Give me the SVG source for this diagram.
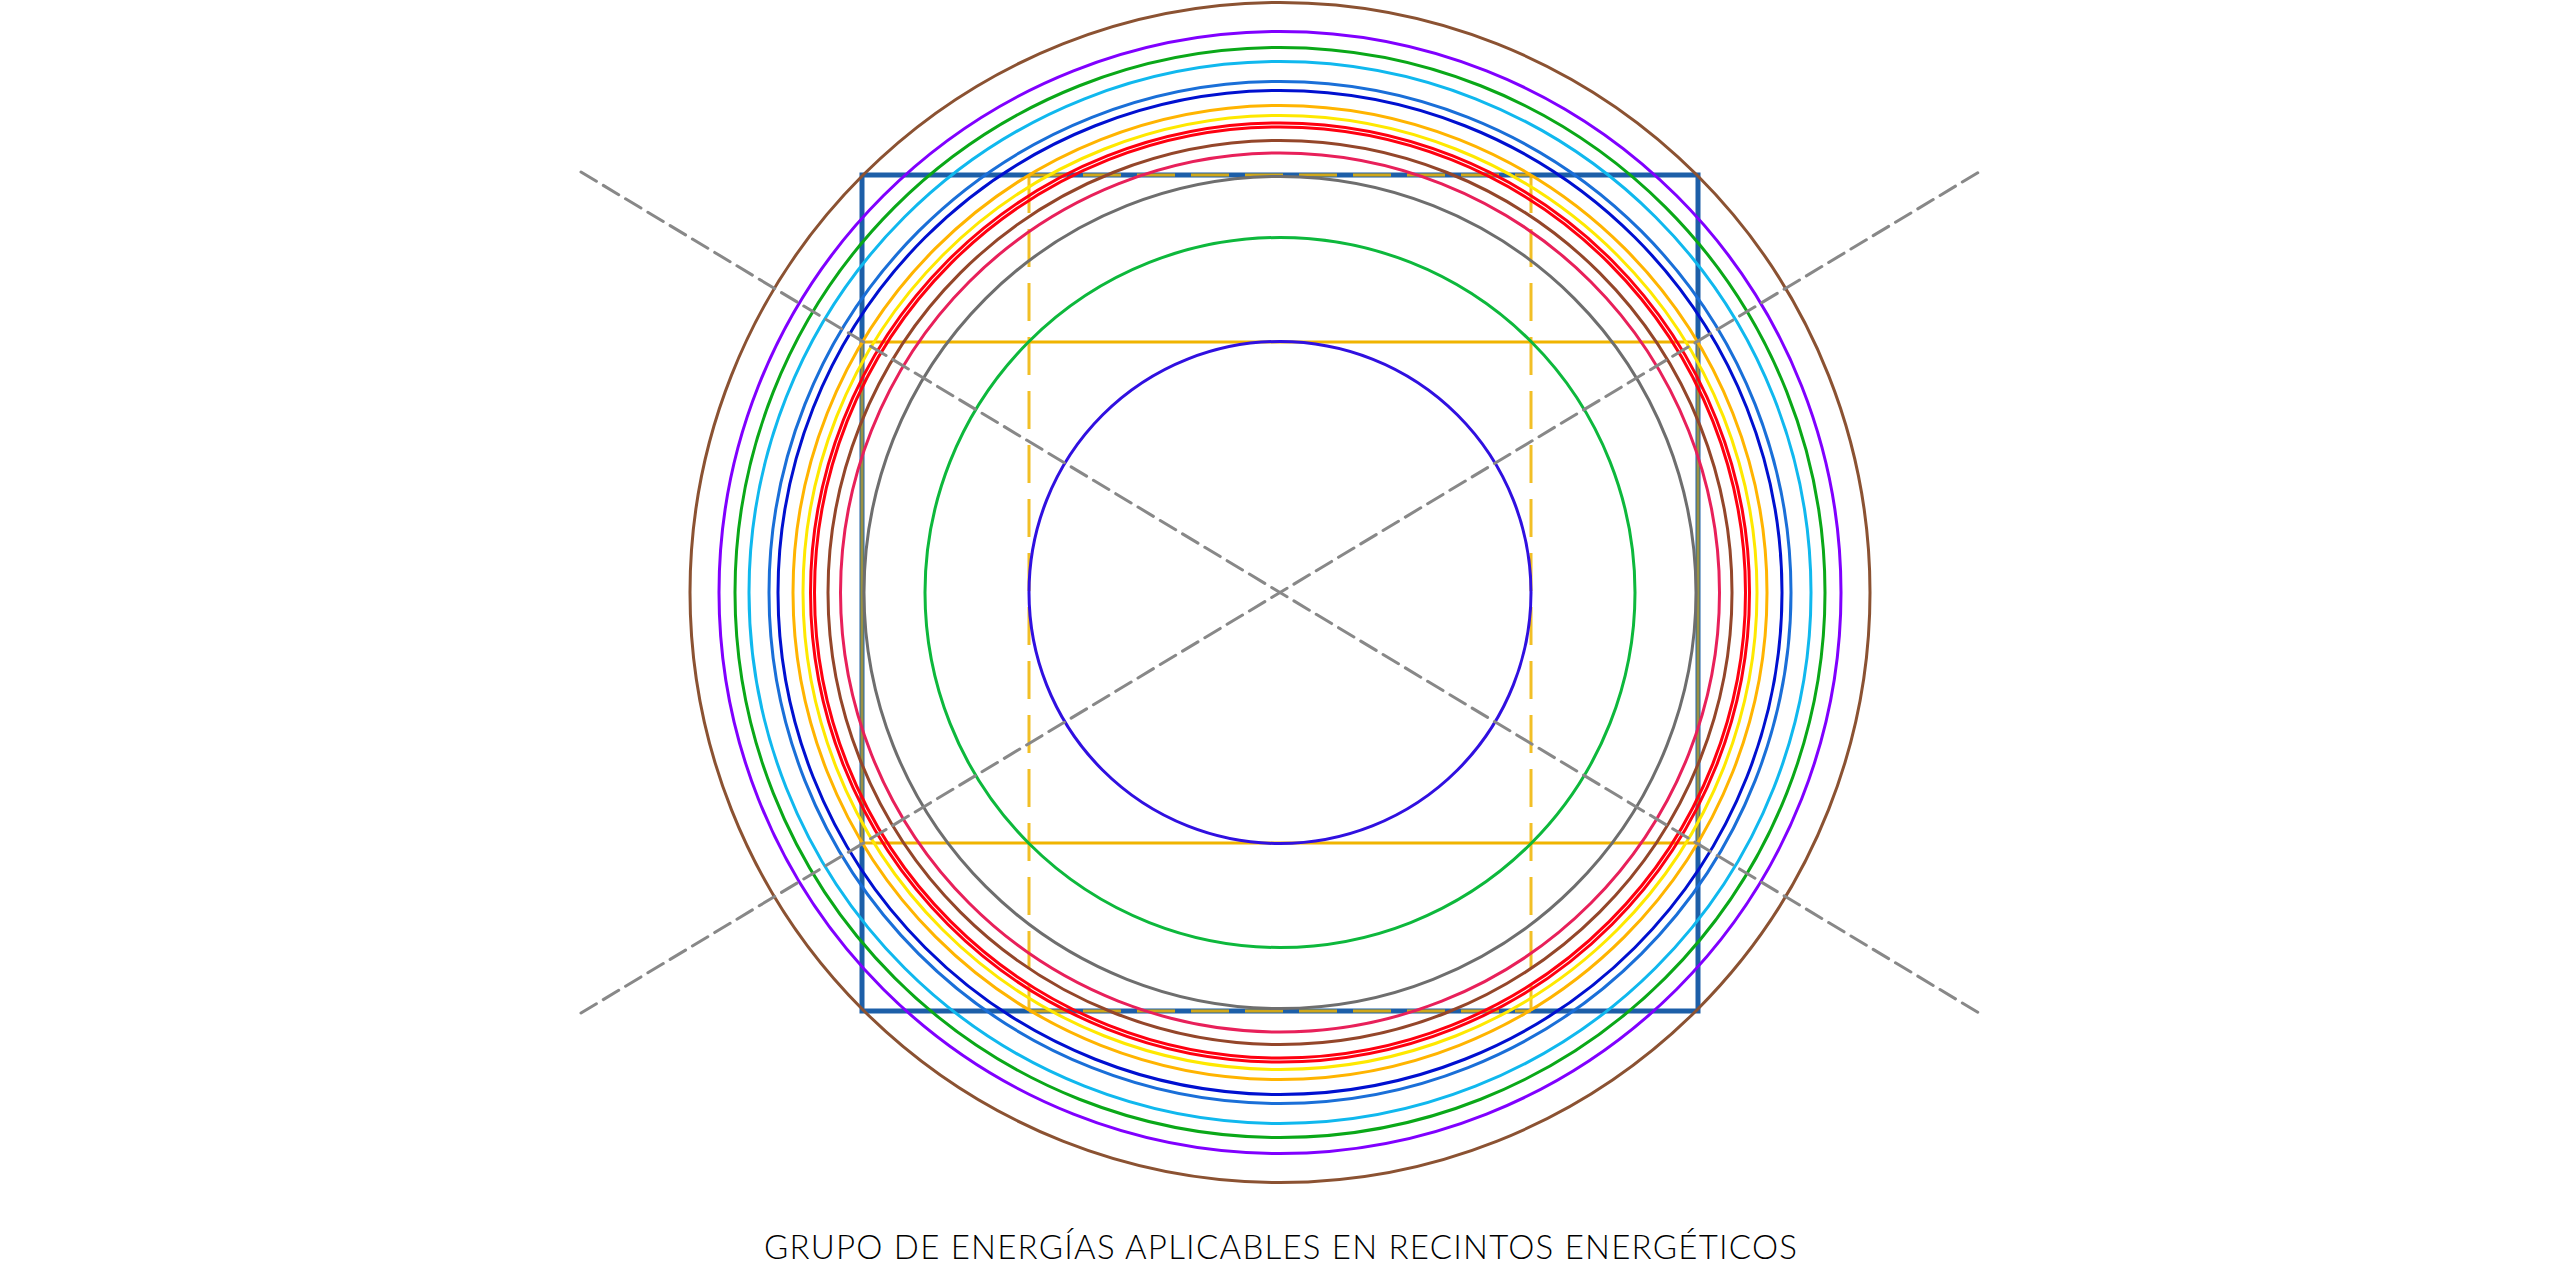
<svg xmlns="http://www.w3.org/2000/svg" width="2560" height="1280" viewBox="0 0 2560 1280">
<style>
.c{fill:none;stroke-width:3}
.y{fill:none;stroke:#f0b400;stroke-width:3}
.yd{fill:none;stroke:#f0b400;stroke-width:3;stroke-dasharray:38 16;opacity:0.85}
.d{fill:none;stroke:#888;stroke-width:3;stroke-dasharray:18 8;stroke-linecap:round}
.t{font-family:Lato,"Liberation Sans",sans-serif;font-weight:300;font-size:33px;fill:#000}
</style>
<rect width="2560" height="1280" fill="#fff"/>
<g id="square">
<rect x="862" y="175" width="836" height="836" fill="none" stroke="#1d5fa8" stroke-width="5"/>
</g>
<g id="grid">
<line class="y" x1="862" y1="342" x2="1698" y2="342"/>
<line class="y" x1="862" y1="843" x2="1698" y2="843"/>
<line class="y" x1="862" y1="342" x2="862" y2="843" opacity="0.6"/>
<line class="y" x1="1698" y1="342" x2="1698" y2="843" opacity="0.6"/>
<line class="yd" x1="1029" y1="175" x2="1029" y2="1011"/>
<line class="yd" x1="1531" y1="175" x2="1531" y2="1011"/>
<line class="yd" x1="1029" y1="175" x2="1531" y2="175"/>
<line class="yd" x1="1029" y1="1011" x2="1531" y2="1011"/>
</g>
<g id="circles">
<circle class="c" cx="1280" cy="592.5" r="590" stroke="#8b5232"/>
<circle class="c" cx="1280" cy="592.5" r="561" stroke="#8000ff"/>
<circle class="c" cx="1280" cy="592.5" r="545" stroke="#0aa818"/>
<circle class="c" cx="1280" cy="592.5" r="531" stroke="#10b8ee"/>
<circle class="c" cx="1280" cy="592.5" r="511" stroke="#1a6fd8"/>
<circle class="c" cx="1280" cy="592.5" r="502" stroke="#0010d0"/>
<circle class="c" cx="1280" cy="592.5" r="487" stroke="#ffb400"/>
<circle class="c" cx="1280" cy="592.5" r="477" stroke="#ffe800"/>
<circle class="c" cx="1280" cy="592.5" r="469.5" stroke="#ff0010"/>
<circle class="c" cx="1280" cy="592.5" r="465.5" stroke="#ff0010"/>
<circle class="c" cx="1280" cy="592.5" r="452" stroke="#94462a"/>
<circle class="c" cx="1280" cy="592.5" r="439.5" stroke="#e8205a"/>
<circle class="c" cx="1280" cy="592.5" r="416" stroke="#6e6e6e"/>
<circle class="c" cx="1280" cy="592.5" r="355" stroke="#0db83c"/>
<circle class="c" cx="1280" cy="592.5" r="251" stroke="#3010e0"/>
</g>
<g id="connectors">
<line class="d" x1="581" y1="172" x2="1979" y2="1013"/>
<line class="d" x1="581" y1="1013" x2="1979" y2="172"/>
</g>
<g id="title">
<text class="t" x="764" y="1259" textLength="1033" lengthAdjust="spacing">GRUPO DE ENERGÍAS APLICABLES EN RECINTOS ENERGÉTICOS</text>
</g>
</svg>
